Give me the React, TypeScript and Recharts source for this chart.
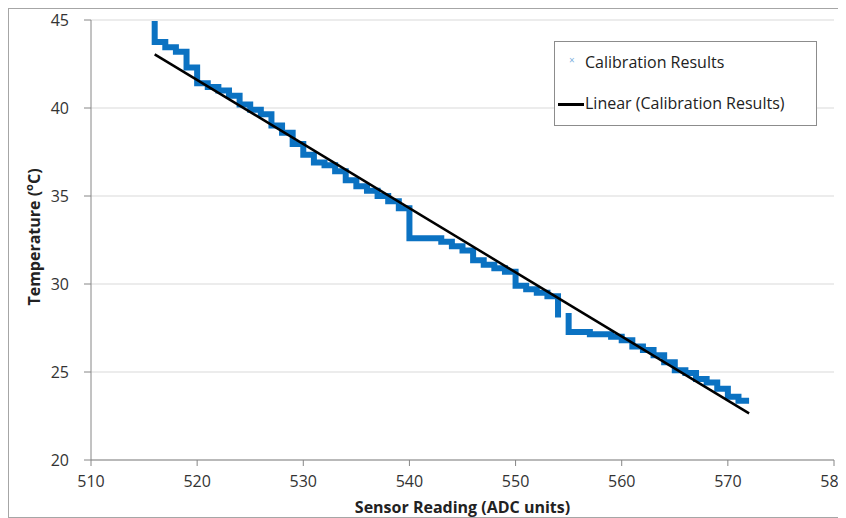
import { ComposedChart, Line, XAxis, YAxis, CartesianGrid, Label } from "recharts";

// calibration readings, corners of the staircase (ADC reading, temperature)
const readingX = [
  516, 516, 517, 518, 519, 520, 521, 522, 523, 524, 525, 526, 527, 528, 529, 530,
  531, 532, 533, 534, 535, 536, 537, 538, 539, 540, 543, 544, 545, 546, 547, 548,
  549, 550, 551, 552, 553, 554, 554.5, 555, 555, 557, 559, 560, 561, 562, 563, 564,
  565, 566, 567, 568, 569, 570, 571, 572,
];
const readingT: (number | null)[] = [
  44.95, 43.75, 43.45, 43.2, 42.3, 41.4, 41.2, 41.0, 40.7, 40.2, 39.9, 39.65, 39.0, 38.6, 37.95, 37.35,
  36.9, 36.75, 36.4, 35.9, 35.55, 35.3, 35.0, 34.7, 34.3, 32.6, 32.4, 32.15, 31.9, 31.35, 31.1, 30.9,
  30.7, 29.9, 29.7, 29.5, 29.3, 28.1, null, 28.35, 27.27, 27.15, 27.0, 26.8, 26.45, 26.25, 25.95, 25.55,
  25.1, 24.95, 24.6, 24.4, 24.05, 23.6, 23.37, 23.37,
];

// linear trendline end points
const trendX = [516, 572];
const trendT = [43.05, 22.65];

const xTicks = [510, 520, 530, 540, 550, 560, 570, 580];
const yTicks = [20, 25, 30, 35, 40, 45];

const stepData = readingX.map((x, i) => ({ x, t: readingT[i] }));
const trendData = trendX.map((x, i) => ({ x, t: trendT[i] }));

const FONT = "'Open Sans', sans-serif";
const BLUE = "#0B72C2";

const YTitle = (props: any) => {
  const vb = props.viewBox;
  const cx = 25;
  const cy = vb.y + vb.height / 2 - 3;
  return (
    <text
      x={cx}
      y={cy}
      transform={`rotate(-90, ${cx}, ${cy})`}
      textAnchor="middle"
      dominantBaseline="central"
      fontFamily={FONT}
      fontWeight="bold"
      fontSize={16}
      fill="#222"
    >
      Temperature (<tspan dy={-6} fontSize={11}>o</tspan>
      <tspan dy={6}>C)</tspan>
    </text>
  );
};

export default function App() {
  return (
    <div
      style={{
        position: "relative",
        width: 837,
        height: 508,
        overflow: "hidden",
        borderLeft: "1px solid #a6a6a6",
        borderTop: "1px solid #a6a6a6",
        borderBottom: "1px solid #a6a6a6",
        background: "#fff",
      }}
    >
      <style>{"body{overflow:hidden}"}</style>
      <ComposedChart width={860} height={508} margin={{ top: 11, right: 35, left: 0, bottom: 0 }}>
        <CartesianGrid vertical={false} stroke="#d9d9d9" />
        <XAxis
          type="number"
          dataKey="x"
          domain={[510, 580]}
          ticks={xTicks}
          allowDataOverflow
          height={57}
          stroke="#868686"
          tickSize={6}
          tickMargin={10}
          tick={{ fontFamily: FONT, fontSize: 16, fill: "#333" }}
        >
          <Label
            value="Sensor Reading (ADC units)"
            position="insideBottom"
            offset={4}
            style={{ fontFamily: FONT, fontWeight: "bold", fontSize: 16, fill: "#222" }}
          />
        </XAxis>
        <YAxis
          type="number"
          dataKey="t"
          domain={[20, 45]}
          ticks={yTicks}
          allowDataOverflow
          width={82}
          stroke="#868686"
          tickSize={7}
          tickMargin={15}
          tick={{ fontFamily: FONT, fontSize: 16, fill: "#333" }}
          label={{ content: YTitle }}
        />
        <Line
          data={stepData}
          dataKey="t"
          type="stepAfter"
          stroke={BLUE}
          strokeWidth={6}
          dot={false}
          activeDot={false}
          connectNulls={false}
          isAnimationActive={false}
        />
        <Line
          data={trendData}
          dataKey="t"
          type="linear"
          stroke="#000"
          strokeWidth={2.5}
          dot={false}
          activeDot={false}
          isAnimationActive={false}
        />
      </ComposedChart>
      <div
        style={{
          position: "absolute",
          left: 545,
          top: 32,
          width: 261,
          height: 83,
          border: "1px solid #8c8c8c",
          background: "#fff",
          fontFamily: FONT,
          fontSize: 16,
          color: "#222",
        }}
      >
        <div style={{ position: "absolute", left: 14, top: 11, fontSize: 10, color: "#7fb2e0" }}>×</div>
        <div style={{ position: "absolute", left: 30, top: 9 }}>Calibration Results</div>
        <div
          style={{ position: "absolute", left: 3, top: 61, width: 26, height: 3, background: "#000" }}
        />
        <div style={{ position: "absolute", left: 30, top: 50 }}>Linear (Calibration Results)</div>
      </div>
    </div>
  );
}
